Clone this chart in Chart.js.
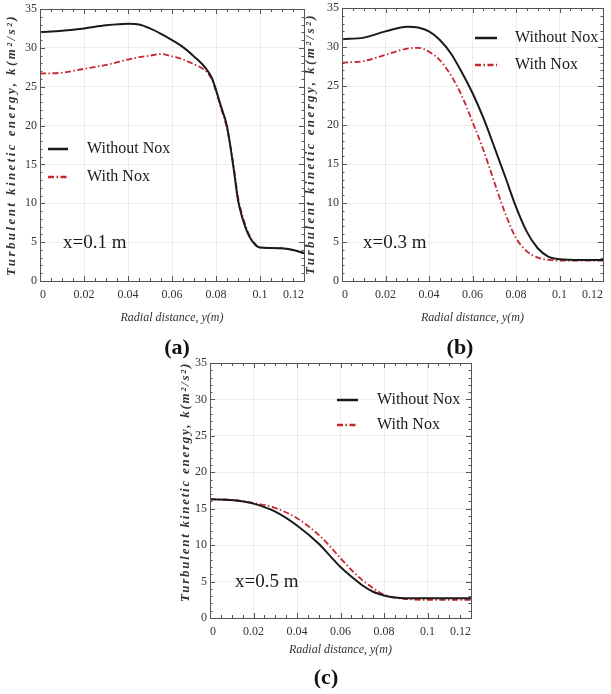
<!DOCTYPE html>
<html><head><meta charset="utf-8">
<script src="https://cdn.jsdelivr.net/npm/chart.js@4.4.1/dist/chart.umd.min.js"></script>
<style>
html,body{margin:0;padding:0;background:#fff}
body{width:611px;height:694px;position:relative;overflow:hidden;font-family:"Liberation Serif",serif}
.panel{position:absolute}
.lbl{position:absolute;font:bold 22px "Liberation Serif",serif;color:#111;transform:translate(-50%,-50%);white-space:nowrap}
</style></head><body>
<div class="panel" style="left:0;top:0;width:310px;height:330px"><canvas id="ca"></canvas></div>
<div class="panel" style="left:300px;top:0;width:311px;height:330px"><canvas id="cb"></canvas></div>
<div class="panel" style="left:165px;top:355px;width:311px;height:310px"><canvas id="cc"></canvas></div>
<div class="lbl" style="left:177px;top:347px">(a)</div>
<div class="lbl" style="left:460px;top:347px">(b)</div>
<div class="lbl" style="left:326px;top:677px">(c)</div>
<script>
// ---- data ----
const seriesNames = ['Without Nox', 'With Nox'];
const xTickValues = [0, 0.02, 0.04, 0.06, 0.08, 0.1, 0.12];
const xTickLabels = ['0', '0.02', '0.04', '0.06', '0.08', '0.1', '0.12'];
const yTickValues = [0, 5, 10, 15, 20, 25, 30, 35];
const yTickLabels = ['0', '5', '10', '15', '20', '25', '30', '35'];
const xTitle = 'Radial distance, y(m)';
const yTitle = 'Turbulent kinetic energy, k(m\u00b2/s\u00b2)';
const panelLabels = ['x=0.1 m', 'x=0.3 m', 'x=0.5 m'];

const xA = [0,0.01,0.02,0.03,0.04,0.045,0.05,0.055,0.06,0.065,0.07,0.075,0.078,0.08,0.082,0.085,0.088,0.09,0.092,0.095,0.098,0.1,0.105,0.11,0.115,0.12];
const withoutA = [32.0,32.2,32.5,32.9,33.1,33.0,32.5,31.8,31.0,30.1,28.9,27.5,26.2,24.6,22.7,19.9,14.5,10.4,8.1,5.8,4.6,4.3,4.25,4.2,4.0,3.6];
const withA = [26.7,26.8,27.3,27.8,28.5,28.8,29.0,29.2,28.9,28.5,27.9,27.1,26.0,24.4,22.5,19.6,14.8,10.8,8.4,6.0,4.7,4.3,4.25,4.2,4.0,3.6];

const xB = [0,0.01,0.02,0.03,0.035,0.04,0.045,0.05,0.055,0.06,0.065,0.07,0.075,0.08,0.085,0.09,0.095,0.1,0.11,0.12];
const withoutB = [31.0,31.2,32.0,32.6,32.5,32.0,30.9,29.2,26.8,24.1,20.9,17.2,13.4,9.5,6.3,4.2,3.1,2.8,2.7,2.7];
const withB = [28.0,28.2,29.0,29.8,29.9,29.4,28.3,26.4,23.8,20.4,16.8,12.7,8.7,5.5,3.8,3.0,2.7,2.6,2.6,2.6];

const xC = [0,0.01,0.02,0.03,0.04,0.05,0.055,0.06,0.065,0.07,0.075,0.08,0.085,0.09,0.1,0.11,0.12];
const withoutC = [16.3,16.2,15.7,14.6,12.7,10.2,8.6,7.0,5.7,4.5,3.6,3.1,2.8,2.7,2.7,2.7,2.7];
const withC = [16.3,16.2,15.8,15.1,13.7,11.4,9.9,8.2,6.6,5.2,4.1,3.2,2.8,2.6,2.5,2.5,2.5];

// ---- drawing ----
const SERIF = '"Liberation Serif", "Times New Roman", serif';

const framePlugin = {
  id: 'frame',
  afterDatasetsDraw(chart, args, o) {
    const ctx = chart.ctx;
    const {left, right, top, bottom} = chart.chartArea;
    const xs = chart.scales.x, ys = chart.scales.y;
    ctx.save();
    ctx.strokeStyle = '#555';
    ctx.lineWidth = 1;
    ctx.strokeRect(Math.round(left) + 0.5, Math.round(top) + 0.5, Math.round(right - left), Math.round(bottom - top));
    ctx.beginPath();
    for (let i = 0; i <= 24; i++) {
      const v = i * 0.005;
      const px = Math.round(xs.getPixelForValue(v)) + 0.5;
      const len = (i % 4 === 0) ? 5 : 3;
      ctx.moveTo(px, bottom); ctx.lineTo(px, bottom - len);
      ctx.moveTo(px, top); ctx.lineTo(px, top + len);
    }
    for (let i = 0; i <= 35; i++) {
      const py = Math.round(ys.getPixelForValue(i)) + 0.5;
      const len = (i % 5 === 0) ? 5 : 2.5;
      ctx.moveTo(left, py); ctx.lineTo(left + len, py);
      ctx.moveTo(right, py); ctx.lineTo(right - len, py);
    }
    ctx.stroke();

    const lg = o.legend;
    chart.data.datasets.forEach((ds, i) => {
      const y = lg.y + i * lg.gap;
      ctx.strokeStyle = ds.borderColor;
      ctx.lineWidth = ds.borderWidth + 0.5;
      ctx.setLineDash(ds.borderDash || []);
      ctx.beginPath(); ctx.moveTo(lg.x, y); ctx.lineTo(lg.x + lg.len, y); ctx.stroke();
      ctx.setLineDash([]);
      ctx.fillStyle = '#1a1a1a';
      ctx.font = '16px ' + SERIF;
      ctx.textBaseline = 'middle';
      ctx.textAlign = 'left';
      ctx.fillText(ds.label, lg.textX, y);
    });

    const an = o.note;
    ctx.fillStyle = '#1a1a1a';
    ctx.font = '19px ' + SERIF;
    ctx.textBaseline = 'middle';
    ctx.textAlign = 'left';
    ctx.fillText(an.text, an.x, an.y);

    const yt = o.yTitle;
    ctx.translate(yt.x, yt.y);
    ctx.rotate(-Math.PI / 2);
    ctx.font = 'italic bold 13px ' + SERIF;
    ctx.fillStyle = '#333';
    ctx.textAlign = 'center';
    ctx.textBaseline = 'middle';
    const w0 = ctx.measureText(yTitle).width;
    const sp = Math.max(0, (yt.len - w0) / (yTitle.length));
    if ('letterSpacing' in ctx) ctx.letterSpacing = sp.toFixed(2) + 'px';
    ctx.fillText(yTitle, 0, 0);
    ctx.restore();
  }
};

function makeChart(id, xs, wo, wi, cfg) {
  const toPts = vals => xs.map((x, i) => ({x: x, y: vals[i]}));
  return new Chart(document.getElementById(id), {
    type: 'line',
    data: {
      datasets: [
        {label: seriesNames[0], data: toPts(wo), borderColor: '#1a1a1a', borderWidth: 2, pointRadius: 0, cubicInterpolationMode: 'monotone', fill: false},
        {label: seriesNames[1], data: toPts(wi), borderColor: '#c4262e', borderWidth: 1.8, borderDash: [6, 2.5, 1.5, 2.5], pointRadius: 0, cubicInterpolationMode: 'monotone', fill: false}
      ]
    },
    options: {
      responsive: true, maintainAspectRatio: false, animation: false, devicePixelRatio: 1,
      layout: {padding: cfg.padding},
      plugins: {
        legend: {display: false}, tooltip: {enabled: false},
        frame: {legend: cfg.legend, note: cfg.note, yTitle: cfg.yTitle}
      },
      scales: {
        x: {
          type: 'linear', min: 0, max: 0.12,
          afterBuildTicks: s => { s.ticks = xTickValues.map(v => ({value: v})); },
          afterFit: s => { s.height = cfg.xHeight; s.paddingLeft = 0; s.paddingRight = 0; },
          ticks: {callback: (v, i) => xTickLabels[i], align: 'inner', autoSkip: false, maxRotation: 0, padding: 7, color: '#333', font: {family: SERIF, size: 12}},
          grid: {color: 'rgba(0,0,0,0.07)', drawTicks: false},
          border: {display: false},
          title: {display: true, text: xTitle, color: '#333', font: {family: SERIF, size: 12, style: 'italic'}, padding: {top: 0, bottom: cfg.titlePad}}
        },
        y: {
          type: 'linear', min: 0, max: 35,
          afterBuildTicks: s => { s.ticks = yTickValues.map(v => ({value: v})); },
          afterFit: s => { s.width = cfg.yWidth; s.paddingTop = 0; s.paddingBottom = 0; },
          ticks: {callback: (v, i) => yTickLabels[i], padding: 3, color: '#333', font: {family: SERIF, size: 12}},
          grid: {color: 'rgba(0,0,0,0.07)', drawTicks: false},
          border: {display: false}
        }
      }
    },
    plugins: [framePlugin]
  });
}

makeChart('ca', xA, withoutA, withA, {
  padding: {left: 0, top: 9, right: 6, bottom: 0}, yWidth: 40, xHeight: 49, titlePad: 5,
  legend: {x: 48, len: 20, textX: 87, y: 149, gap: 28},
  note: {text: panelLabels[0], x: 63, y: 243},
  yTitle: {x: 12, y: 145, len: 262}
});
makeChart('cb', xB, withoutB, withB, {
  padding: {left: 0, top: 8, right: 8, bottom: 0}, yWidth: 42, xHeight: 49, titlePad: 5,
  legend: {x: 175, len: 22, textX: 215, y: 38, gap: 27},
  note: {text: panelLabels[1], x: 63, y: 243},
  yTitle: {x: 11, y: 144, len: 262}
});
makeChart('cc', xC, withoutC, withC, {
  padding: {left: 0, top: 8, right: 5, bottom: 0}, yWidth: 45, xHeight: 47, titlePad: 8,
  legend: {x: 172, len: 21, textX: 212, y: 45, gap: 25},
  note: {text: panelLabels[2], x: 70, y: 227},
  yTitle: {x: 21, y: 127, len: 240}
});
</script>
</body></html>
